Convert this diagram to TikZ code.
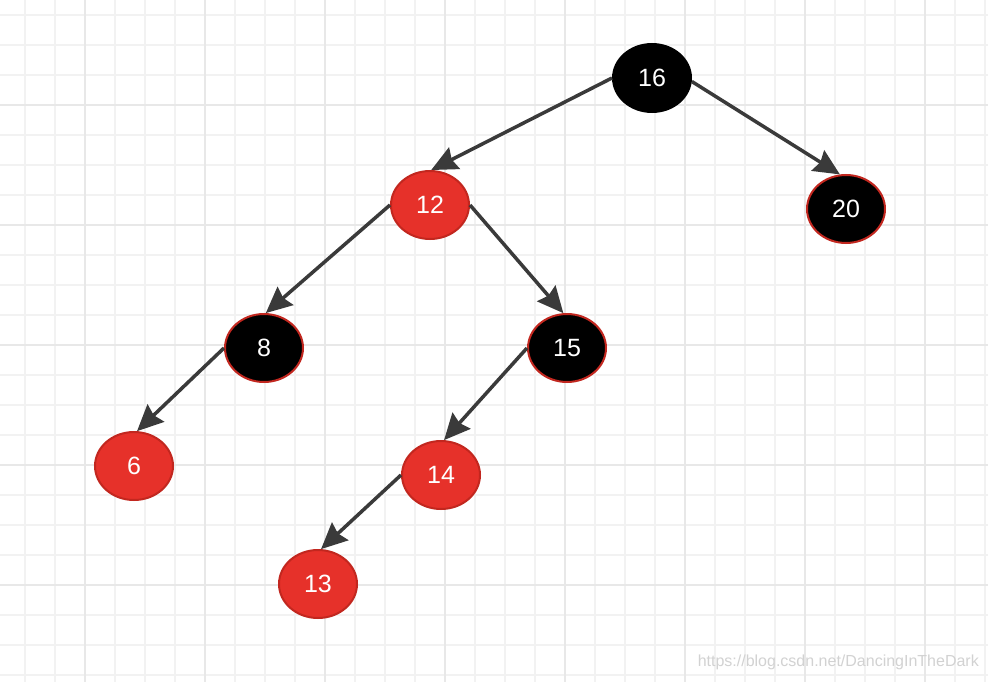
\documentclass[tikz,border=0pt]{standalone}
\usepackage{fontspec}
\setmainfont{Liberation Sans}
\usetikzlibrary{arrows.meta,shapes.geometric}
\definecolor{gridminor}{HTML}{F2F2F2}
\definecolor{gridmajor}{HTML}{E8E8E8}
\definecolor{rbred}{HTML}{E6312A}
\definecolor{rbredborder}{HTML}{C2271F}
\definecolor{edgegrey}{HTML}{3A3A3A}
\definecolor{wmgrey}{HTML}{D2D2D2}
\tikzset{
  rbnode/.style={ellipse, minimum width=78pt, minimum height=68pt, inner sep=0pt,
    line width=2pt, text=white, font=\fontsize{25}{27}\selectfont},
  rednode/.style={rbnode, fill=rbred, draw=rbredborder},
  blacknode/.style={rbnode, fill=black, draw=rbredborder},
  rootnode/.style={rbnode, fill=black, draw=black},
  treeedge/.style={draw=edgegrey, line width=3.5pt,
    -{Stealth[length=26pt,width=24pt,inset=3pt]}},
}
\begin{document}
\begin{tikzpicture}[x=1pt,y=-1pt]
\fill[white] (0,0) rectangle (988,682);
\useasboundingbox (0,0) rectangle (988,682);
% grid
\foreach \x in {25,55,...,985} \draw[gridminor, line width=1.5pt] (\x,0) -- (\x,682);
\foreach \y in {15,45,...,675} \draw[gridminor, line width=1.5pt] (0,\y) -- (988,\y);
\foreach \x in {85,205,...,925} \draw[gridmajor, line width=1.5pt] (\x,0) -- (\x,682);
\foreach \y in {105,225,...,585} \draw[gridmajor, line width=1.5pt] (0,\y) -- (988,\y);
% nodes
\node[rootnode]  (n16) at (652,78)  {16};
\node[blacknode] (n20) at (846,209) {20};
\node[rednode]   (n12) at (430,205) {12};
\node[blacknode] (n8)  at (264,348) {8};
\node[blacknode] (n15) at (567,348) {15};
\node[rednode]   (n6)  at (134,466) {6};
\node[rednode]   (n14) at (441,475) {14};
\node[rednode]   (n13) at (318,584) {13};
% edges
\draw[treeedge] (n16.west) -- (n12.88);
\draw[treeedge] (n16.355) -- (n20.100);
\draw[treeedge] (n12.west) -- (n8.87);
\draw[treeedge] (n12.east) -- (n15.96);
\draw[treeedge] (n8.west) -- (n6.85);
\draw[treeedge] (n15.west) -- (n14.85);
\draw[treeedge] (n14.west) -- (n13.85);
% watermark
\node[anchor=east, text=wmgrey, font=\fontsize{16}{18}\selectfont, inner sep=0pt] (wm) at (979,662) {https://blog.csdn.net/DancingInTheDark};
\end{tikzpicture}
\end{document}
